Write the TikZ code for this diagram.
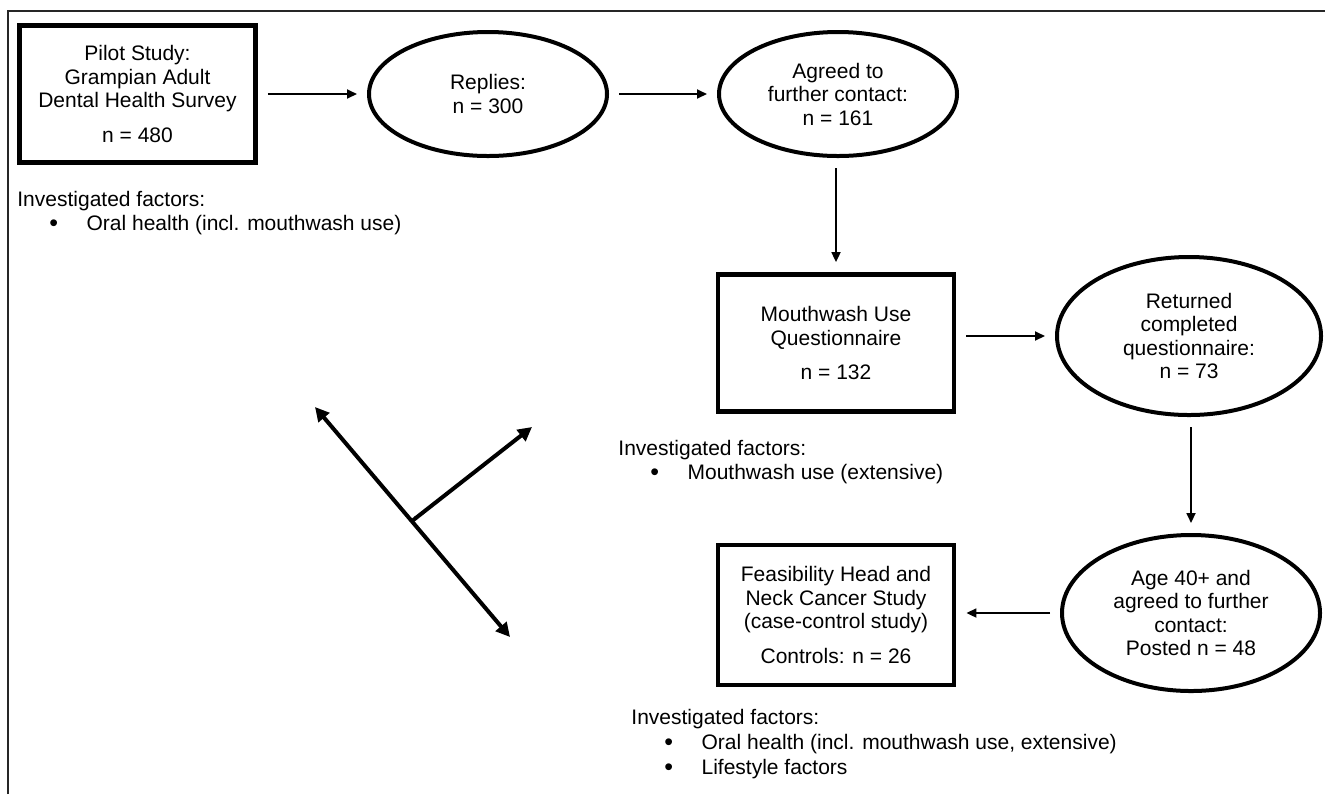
\documentclass[tikz,border=0pt]{standalone}
\usepackage{fontspec}
\setmainfont{Liberation Sans}
\usepackage{tikz}
\usetikzlibrary{arrows.meta,shapes.geometric}

\newcommand{\factbullet}{\makebox[18.6pt][l]{\raisebox{-0.6pt}{\fontsize{12.5}{12.5}\selectfont\textbullet}}}

\begin{document}
\begin{tikzpicture}[x=0.5pt,y=-0.5pt,
		font=\fontsize{10.5}{11.75}\selectfont,
		box/.style={draw, line width=2.4pt, minimum width=118pt, minimum height=68.5pt, inner sep=0pt, align=center},
		oval/.style={draw, ellipse, line width=2pt, inner sep=0pt, align=center},
		arr/.style={-{Triangle[length=5pt,width=4.5pt]}, line width=0.9pt, shorten <=5pt, shorten >=5pt},
		bigarr/.style={line width=2pt, {Triangle[length=7pt,width=7pt]}-{Triangle[length=7pt,width=7pt]}},
		fact/.style={anchor=base west, inner sep=0pt}]
		\useasboundingbox (0,0) rectangle (1325,794);

		% Draw the frame
		\draw[line width=1.2pt, black!85] (8,794) -- (8,11) -- (1325,11);

		% Top row
		\node[box] (pilot) at (137.5,94) {Pilot Study:\\Grampian Adult\\Dental Health Survey\\[5.5pt]n = 480};
		\node[oval, minimum width=119pt, minimum height=62pt] (replies) at (488,94) {Replies:\\n = 300};
		\node[oval, minimum width=119pt, minimum height=62pt] (agreed) at (838,94) {Agreed to\\further contact:\\n = 161};

		% Middle row
		\node[box] (mouth) at (836,343) {Mouthwash Use\\Questionnaire\\[5.5pt]n = 132};
		\node[oval, minimum width=132pt, minimum height=79pt] (returned) at (1189,336) {Returned\\completed\\questionnaire:\\n = 73};

		% Bottom row
		\node[oval, minimum width=129pt, minimum height=78pt] (age) at (1191,613) {Age 40+ and\\agreed to further\\contact:\\Posted n = 48};
		\node[box, minimum height=70pt] (feas) at (836,615) {Feasibility Head and\\Neck Cancer Study\\(case-control study)\\[5.5pt]Controls: n = 26};

		% Connectors
		\draw[arr] (pilot) -- (replies);
		\draw[arr] (replies) -- (agreed);
		\draw[arr] (agreed.south -| mouth.north) -- (mouth.north);
		\draw[arr] (mouth.east |- returned.west) -- (returned.west);
		\draw[arr] (returned.south -| age.north) -- (age.north);
		\draw[arr] (age.west) -- (age.west -| feas.east);

		% Investigated factors
		\node[fact] (fpilot) at (17,206) {Investigated factors:};
		\node[fact] (fpilota) at (49,230) {\factbullet Oral health (incl. mouthwash use)};
		\node[fact] (fmouth) at (618,455) {Investigated factors:};
		\node[fact] (fmoutha) at (650,479) {\factbullet Mouthwash use (extensive)};
		\node[fact] (ffeas) at (631,724) {Investigated factors:};
		\node[fact] (ffeasa) at (664,749) {\factbullet Oral health (incl. mouthwash use, extensive)};
		\node[fact] (ffeasb) at (664,774) {\factbullet Lifestyle factors};

		% Three-way arrows
		\coordinate (ytop) at (315,407);
		\coordinate (ybot) at (510,637);
		\coordinate (yjoin) at (412,521);
		\coordinate (yright) at (532,427);
		\draw[bigarr] (ytop) -- (ybot);
		\draw[bigarr, {Butt Cap}-{Triangle[length=7pt,width=7pt]}] (yjoin) -- (yright);
	\end{tikzpicture}
\end{document}
